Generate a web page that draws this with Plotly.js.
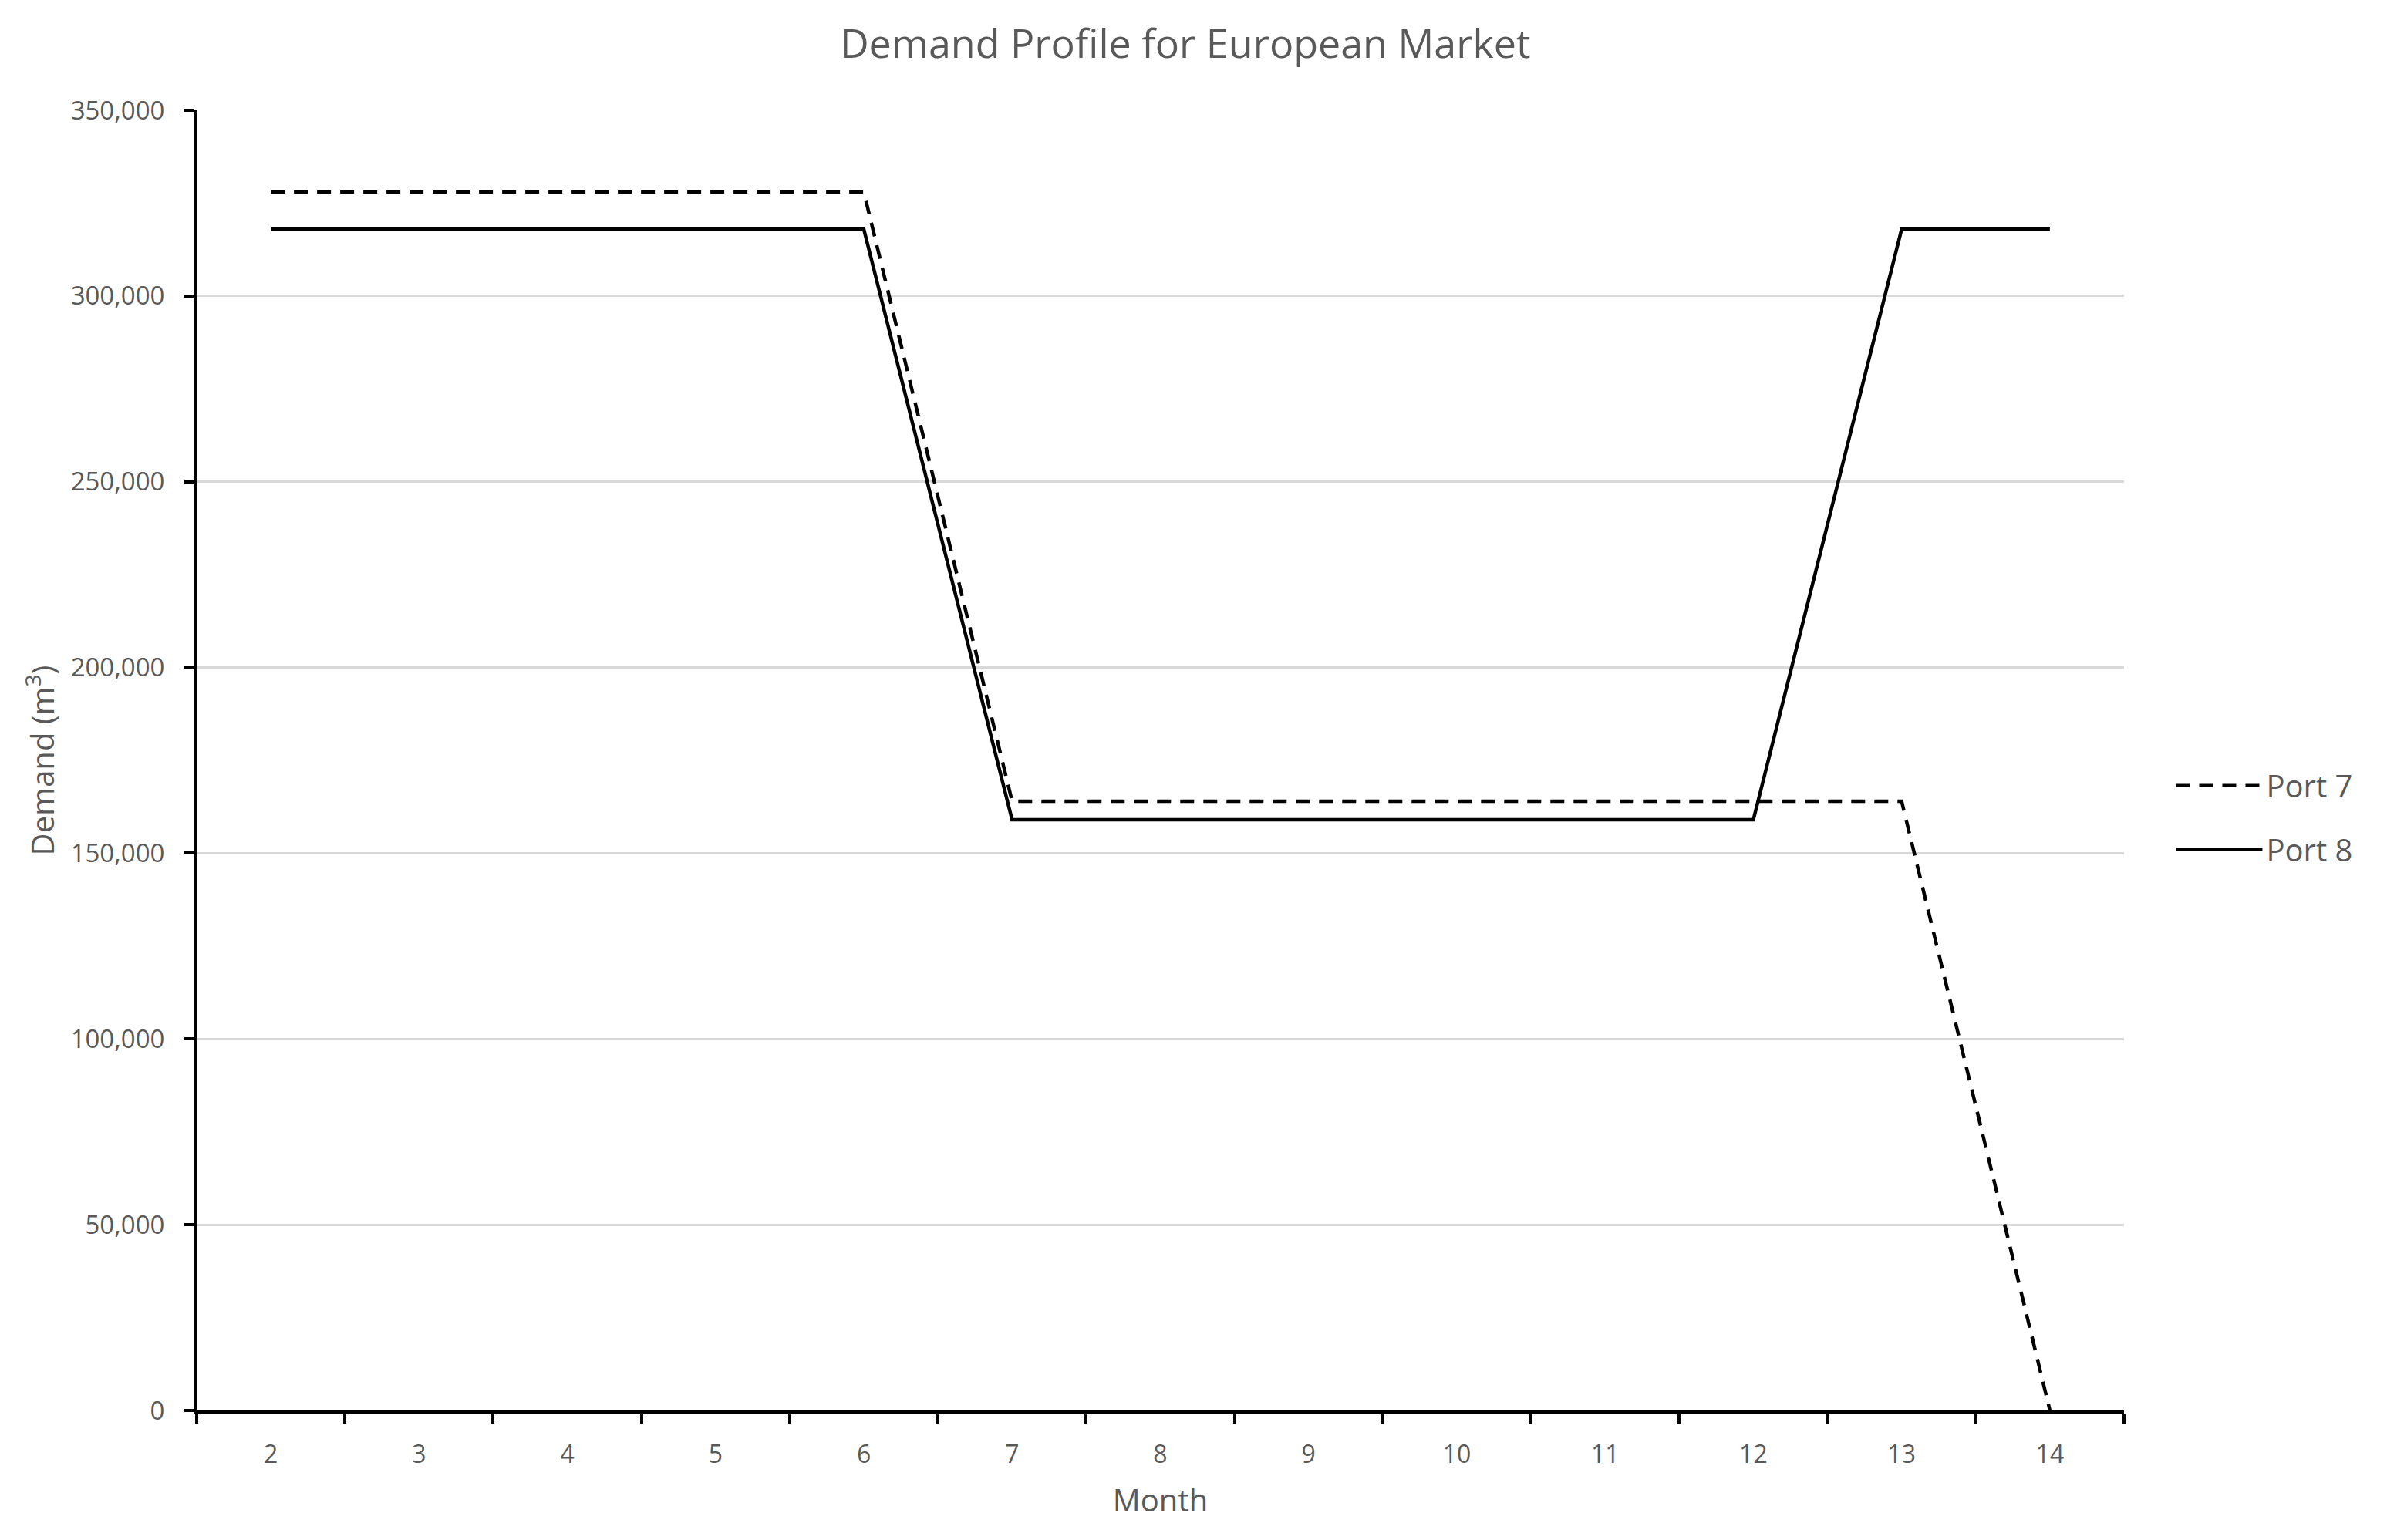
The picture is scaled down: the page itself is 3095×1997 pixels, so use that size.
<!DOCTYPE html>
<html>
<head>
<meta charset="utf-8">
<script src="https://cdn.plot.ly/plotly-3.0.1.min.js"></script>
<style>
  html, body { margin: 0; padding: 0; background: #fff; }
  #chart { width: 3095px; height: 1997px; }
</style>
</head>
<body>
<div id="chart"></div>
<script>
const months = ['2', '3', '4', '5', '6', '7', '8', '9', '10', '11', '12', '13', '14'];
const port7 = [328000, 328000, 328000, 328000, 328000, 164000, 164000, 164000, 164000, 164000, 164000, 164000, 0];
const port8 = [318000, 318000, 318000, 318000, 318000, 159000, 159000, 159000, 159000, 159000, 159000, 318000, 318000];
const seriesNames = ['Port 7', 'Port 8'];

const textColor = '#595959';
const fontFamily = '"Open Sans", "Noto Sans", sans-serif';

const traces = [
  {
    x: months, y: port7, name: seriesNames[0], type: 'scatter', mode: 'lines',
    legendgroup: 'a',
    line: { color: '#000000', width: 4.5, dash: '18px,12px' }
  },
  {
    x: months, y: port8, name: seriesNames[1], type: 'scatter', mode: 'lines',
    legendgroup: 'b',
    line: { color: '#000000', width: 4.5 }
  }
];

const layout = {
  width: 3095,
  height: 1997,
  paper_bgcolor: '#ffffff',
  plot_bgcolor: '#ffffff',
  margin: { l: 255, r: 341, t: 143, b: 168 },
  font: { family: fontFamily, color: textColor },
  title: {
    text: 'Demand Profile for European Market',
    font: { family: fontFamily, size: 52, color: textColor },
    x: 0.4965, xanchor: 'center',
    y: 0.9715, yanchor: 'middle'
  },
  xaxis: {
    type: 'category',
    range: [-0.5, months.length - 0.5],
    tickson: 'boundaries',
    showgrid: false,
    zeroline: false,
    showline: true,
    linecolor: '#000000',
    linewidth: 4,
    ticks: 'outside',
    ticklen: 13,
    tickwidth: 4,
    tickcolor: '#000000',
    tickfont: { family: fontFamily, size: 32, color: textColor },
    ticklabelstandoff: 26,
    title: { text: 'Month', font: { family: fontFamily, size: 40, color: textColor }, standoff: 28 }
  },
  yaxis: {
    range: [0, 350000],
    dtick: 50000,
    tickformat: ',d',
    showgrid: true,
    gridcolor: '#d9d9d9',
    gridwidth: 3,
    zeroline: false,
    showline: true,
    linecolor: '#000000',
    linewidth: 4,
    ticks: 'outside',
    ticklen: 13,
    tickwidth: 4,
    tickcolor: '#000000',
    tickfont: { family: fontFamily, size: 33, color: textColor },
    ticklabelstandoff: 18,
    title: { text: 'Demand (m<sup>3</sup>)', font: { family: fontFamily, size: 40, color: textColor }, standoff: 10 }
  },
  showlegend: true,
  legend: {
    x: 1.025, xanchor: 'left',
    y: 0.456, yanchor: 'middle',
    font: { family: fontFamily, size: 40, color: textColor },
    itemwidth: 112,
    traceorder: 'grouped',
    tracegroupgap: 28,
    bgcolor: 'rgba(0,0,0,0)'
  }
};

Plotly.newPlot('chart', traces, layout, { displayModeBar: false, staticPlot: true });
</script>
</body>
</html>
